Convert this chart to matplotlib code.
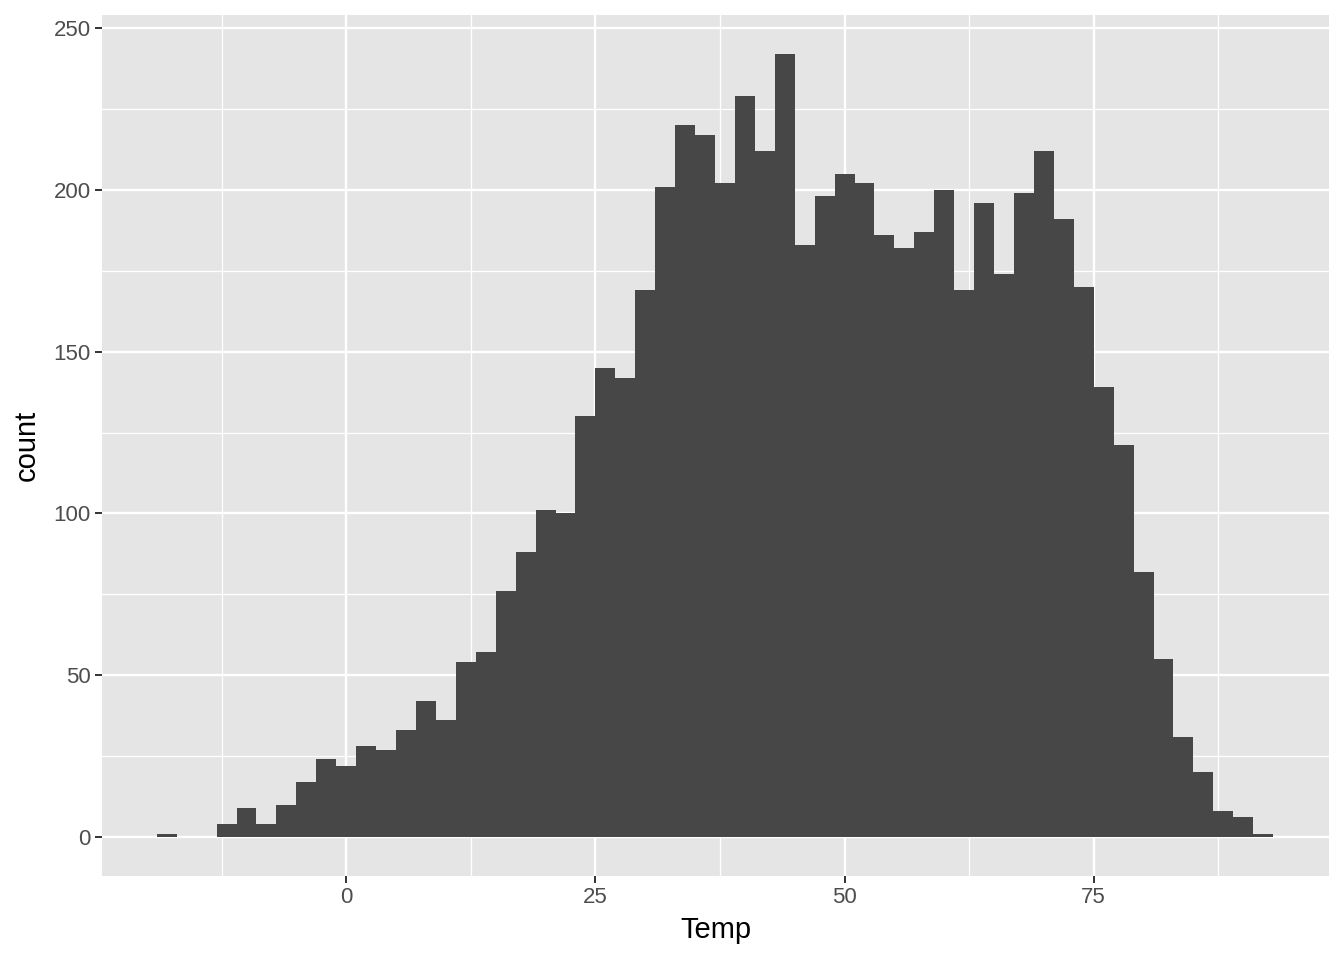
import matplotlib.pyplot as plt
from matplotlib.ticker import MultipleLocator

# bin centres (binwidth 2) and counts
temp_bins = [-18, -16, -14, -12, -10, -8, -6, -4, -2, 0, 2, 4, 6, 8, 10, 12, 14,
             16, 18, 20, 22, 24, 26, 28, 30, 32, 34, 36, 38, 40, 42, 44, 46, 48,
             50, 52, 54, 56, 58, 60, 62, 64, 66, 68, 70, 72, 74, 76, 78, 80, 82,
             84, 86, 88, 90, 92]
counts = [1, 0, 0, 4, 9, 4, 10, 17, 24, 22, 28, 27, 33, 42, 36, 54, 57,
          76, 88, 101, 100, 130, 145, 142, 169, 201, 220, 217, 202, 229, 212, 242, 183, 198,
          205, 202, 186, 182, 187, 200, 169, 196, 174, 199, 212, 191, 170, 139, 121, 82, 55,
          31, 20, 8, 6, 1]
x_ticks = [0, 25, 50, 75]
y_ticks = [0, 50, 100, 150, 200, 250]

plt.rcParams['font.family'] = ['Liberation Sans', 'DejaVu Sans']

fig = plt.figure(figsize=(13.44, 9.6), dpi=100)
ax = fig.add_axes([0.0759, 0.0875, 0.9129, 0.8969])
ax.set_facecolor('#E5E5E5')

ax.bar(temp_bins, counts, width=2, color='#474747', linewidth=0, zorder=3)

ax.set_xlim(-24.5, 98.6)
ax.set_ylim(-12.1, 254.1)
ax.set_xticks(x_ticks)
ax.set_yticks(y_ticks)
ax.xaxis.set_minor_locator(MultipleLocator(12.5))
ax.yaxis.set_minor_locator(MultipleLocator(25))
ax.grid(True, which='major', color='white', linewidth=1.7, zorder=1)
ax.grid(True, which='minor', color='white', linewidth=0.9, zorder=1)
ax.tick_params(which='major', length=5, width=1.4, color='#333333',
               labelsize=16, labelcolor='#4D4D4D', pad=3)
ax.tick_params(which='minor', length=0)
for s in ax.spines.values():
    s.set_visible(False)

ax.set_xlabel('Temp', fontsize=21, color='black', va='center')
ax.xaxis.set_label_coords(0.5, -0.0627)
ax.set_ylabel('count', fontsize=21, color='black', va='center')
ax.yaxis.set_label_coords(-0.0611, 0.5)

fig.savefig('out.png', dpi=100, facecolor='white')
